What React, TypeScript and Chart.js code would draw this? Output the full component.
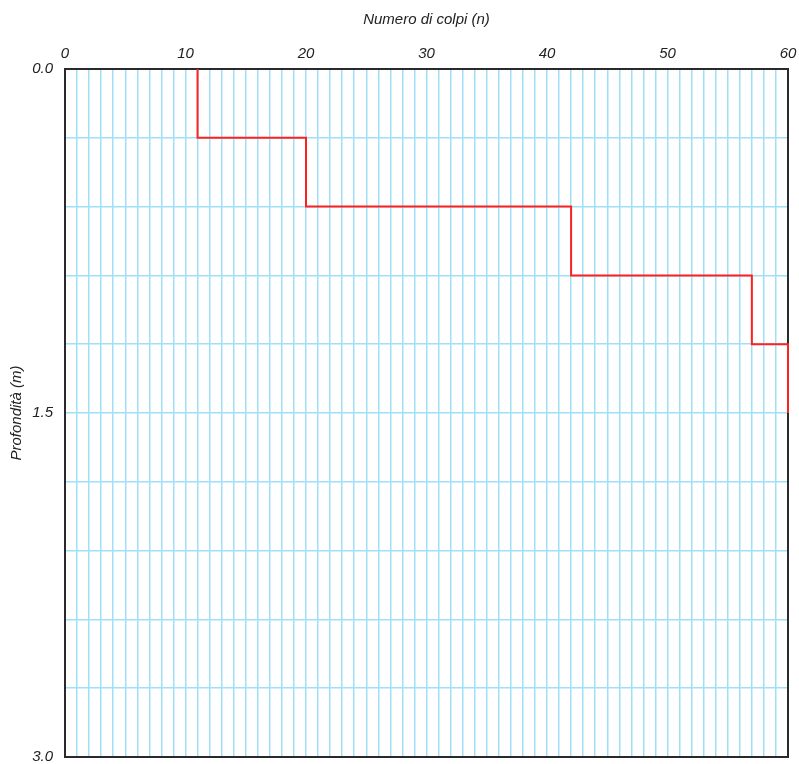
import React, { useEffect, useRef } from "react";
import { Chart, registerables } from "chart.js";

Chart.register(...registerables);

const depthTop = [0, 0.3, 0.6, 0.9, 1.2];
const depthBottom = [0.3, 0.6, 0.9, 1.2, 1.5];
const blows = [11, 20, 42, 57, 60];
const xLabeled = [0, 10, 20, 30, 40, 50, 60];
const yLabeled = [0, 1.5, 3.0];

const xTitle = "Numero di colpi (n)";
const yTitle = "Profondità (m)";

const frame = {
  id: "frame",
  beforeDatasetsDraw(chart: any) {
    const { ctx, chartArea: a } = chart;
    ctx.save();
    ctx.strokeStyle = "#2a2a2a";
    ctx.lineWidth = 2;
    ctx.strokeRect(a.left, a.top, a.right - a.left, a.bottom - a.top);
    ctx.restore();
  },
};

export default function App() {
  const ref = useRef<HTMLCanvasElement>(null);
  useEffect(() => {
    const pts: { x: number; y: number }[] = [];
    blows.forEach((b, i) => {
      pts.push({ x: b, y: depthTop[i] });
      pts.push({ x: b, y: depthBottom[i] });
    });
    const font = { family: "'Liberation Sans', Arial, sans-serif", size: 15, style: "italic" as const };
    const chart = new Chart(ref.current!, {
      type: "scatter",
      data: {
        datasets: [
          {
            data: pts,
            showLine: true,
            borderColor: "#ff2020",
            borderWidth: 2,
            pointRadius: 0,
            fill: false,
            clip: false,
          },
        ],
      },
      options: {
        animation: false,
        responsive: false,
        layout: { padding: { left: 0, top: 0, right: 11, bottom: 7 } },
        plugins: { legend: { display: false }, tooltip: { enabled: false } },
        scales: {
          x: {
            type: "linear",
            position: "top",
            min: 0,
            max: 60,
            afterBuildTicks: (s: any) => {
              const t = [];
              for (let i = 0; i <= 60; i++) t.push({ value: i });
              s.ticks = t;
            },
            afterFit: (s: any) => {
              s.height = 69;
              s.paddingLeft = 0;
              s.paddingRight = 0;
            },
            ticks: {
              autoSkip: false,
              maxRotation: 0,
              padding: 6,
              color: "#222",
              font,
              callback: (v: any) => (xLabeled.includes(Number(v)) ? String(v) : ""),
            },
            grid: { color: "#9fe0f8", lineWidth: 1.5, drawTicks: false },
            border: { display: false },
            title: { display: true, text: xTitle, color: "#222", font, padding: { top: 11, bottom: 0 } },
          },
          y: {
            type: "linear",
            reverse: true,
            min: 0,
            max: 3,
            afterBuildTicks: (s: any) => {
              const t = [];
              for (let i = 0; i <= 10; i++) t.push({ value: Math.round(i * 3) / 10 });
              s.ticks = t;
            },
            afterFit: (s: any) => {
              s.width = 65;
              s.paddingTop = 0;
              s.paddingBottom = 0;
            },
            ticks: {
              autoSkip: false,
              padding: 12,
              color: "#222",
              font,
              callback: (v: any) =>
                yLabeled.some((l) => Math.abs(l - Number(v)) < 1e-6) ? Number(v).toFixed(1) : "",
            },
            grid: { color: "#9fe0f8", lineWidth: 1.5, drawTicks: false },
            border: { display: false },
            title: { display: true, text: yTitle, color: "#222", font, padding: { top: 8, bottom: 4 } },
          },
        },
      },
      plugins: [frame],
    });
    return () => chart.destroy();
  }, []);
  return (
    <div style={{ position: "fixed", left: 0, top: 0, width: 799, height: 764, background: "#fff" }}>
      <canvas ref={ref} width={799} height={764} style={{ display: "block" }} />
    </div>
  );
}
